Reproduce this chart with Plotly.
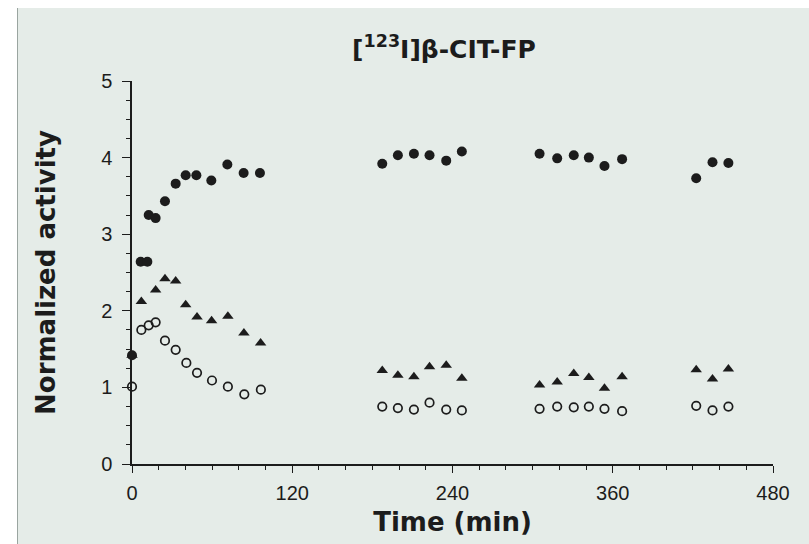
import plotly.graph_objects as go

# Filled circles
t_filled = [0, 6.5, 11.5, 12.5, 17.7, 24.7, 32.7, 40.2, 48.2, 59.4, 71.4, 83.6, 95.8,
            187.4, 199.1, 211.1, 222.8, 235.3, 247.0,
            305.2, 318.4, 330.8, 342.1, 353.8, 367.0,
            422.5, 434.7, 446.6]
v_filled = [1.42, 2.64, 2.64, 3.25, 3.21, 3.43, 3.66, 3.77, 3.77, 3.70, 3.91, 3.80, 3.80,
            3.92, 4.03, 4.05, 4.03, 3.96, 4.08,
            4.05, 3.99, 4.03, 4.00, 3.89, 3.98,
            3.73, 3.94, 3.93]

# Filled triangles
t_tri = [0, 7.0, 17.7, 24.7, 32.7, 40.2, 48.7, 59.6, 71.8, 83.8, 96.3,
         187.4, 199.1, 211.1, 222.8, 235.3, 247.0,
         305.2, 318.4, 330.8, 342.1, 353.8, 367.0,
         422.5, 434.7, 446.6]
v_tri = [1.42, 2.12, 2.27, 2.42, 2.39, 2.08, 1.92, 1.87, 1.93, 1.71, 1.58,
         1.22, 1.16, 1.14, 1.27, 1.29, 1.12,
         1.03, 1.07, 1.18, 1.13, 0.99, 1.14,
         1.23, 1.11, 1.24]

# Open circles
t_open = [0, 7.0, 12.5, 17.7, 24.7, 32.7, 40.7, 48.7, 59.9, 71.8, 84.1, 96.5,
          187.4, 199.1, 211.1, 222.8, 235.3, 247.0,
          305.2, 318.4, 330.8, 342.1, 353.8, 367.0,
          422.5, 434.7, 446.6]
v_open = [1.01, 1.75, 1.81, 1.85, 1.61, 1.49, 1.32, 1.19, 1.09, 1.01, 0.91, 0.97,
          0.75, 0.73, 0.71, 0.80, 0.71, 0.70,
          0.72, 0.75, 0.74, 0.75, 0.72, 0.69,
          0.76, 0.70, 0.75]

x_ticks = [0, 120, 240, 360, 480]
y_ticks = [0, 1, 2, 3, 4, 5]

ink = "#1c1c1c"
font_family = "Liberation Sans, Arial, sans-serif"
bold_family = "DejaVu Sans, Liberation Sans, sans-serif"

fig = go.Figure()
fig.add_trace(go.Scatter(x=t_filled, y=v_filled, mode="markers", cliponaxis=False,
                         marker=dict(symbol="circle", size=10, color=ink, line=dict(width=0))))
fig.add_trace(go.Scatter(x=t_tri, y=v_tri, mode="markers", cliponaxis=False,
                         marker=dict(symbol="triangle-up", size=10, color=ink, line=dict(width=0))))
fig.add_trace(go.Scatter(x=t_open, y=v_open, mode="markers", cliponaxis=False,
                         marker=dict(symbol="circle-open", size=8.5, color=ink, line=dict(width=1.7))))

W, H = 809, 544
ml, mr, mt, mb = 132, 36, 81, 80
pw, ph = W - ml - mr, H - mt - mb

def px_x(p):
    return (p - ml) / pw

def px_y(p):
    return (H - mb - p) / ph

fig.update_layout(
    width=W, height=H,
    margin=dict(l=ml, r=mr, t=mt, b=mb),
    paper_bgcolor="#e5ece8",
    plot_bgcolor="#e5ece8",
    showlegend=False,
    font=dict(family=font_family, color=ink, size=18),
    title=dict(text="<b>[<sup>123</sup>I]β-CIT-FP</b>", x=px_x(444), xref="paper",
               xanchor="center", y=1 - 49 / H, yanchor="middle",
               font=dict(size=25, family=bold_family, color=ink)),
    shapes=[
        dict(type="rect", xref="paper", yref="paper", x0=px_x(-2), x1=px_x(17),
             y0=px_y(H + 2), y1=px_y(-2), fillcolor="white", line=dict(width=0), layer="below"),
        dict(type="rect", xref="paper", yref="paper", x0=px_x(-2), x1=px_x(W + 2),
             y0=px_y(8), y1=px_y(-2), fillcolor="white", line=dict(width=0), layer="below"),
        dict(type="line", xref="paper", yref="paper", x0=px_x(17.5), x1=px_x(17.5),
             y0=px_y(H + 2), y1=px_y(8), line=dict(color="#9aa5a0", width=1), layer="below"),
    ],
)

fig.update_xaxes(
    range=[0, 480], tickvals=x_ticks, ticktext=[str(v) for v in x_ticks],
    showgrid=False, zeroline=False, showline=True, linecolor=ink, linewidth=1.5,
    ticks="outside", ticklen=7, tickwidth=1.3, tickcolor=ink, ticklabelstandoff=3,
    tickfont=dict(size=20, family=font_family, color=ink),
    minor=dict(dtick=20, ticks="outside", ticklen=4, tickwidth=1, tickcolor=ink),
    title=dict(text="<b>Time (min)</b>", font=dict(size=26, family=bold_family, color=ink), standoff=10),
)
fig.update_yaxes(
    range=[0, 5], tickvals=y_ticks, ticktext=[str(v) for v in y_ticks],
    showgrid=False, zeroline=False, showline=True, linecolor=ink, linewidth=1.5,
    ticks="outside", ticklen=8, tickwidth=1.3, tickcolor=ink, ticklabelstandoff=6,
    tickfont=dict(size=20, family=font_family, color=ink),
    minor=dict(dtick=0.25, ticks="outside", ticklen=4, tickwidth=1, tickcolor=ink),
    title=dict(text="<b>Normalized activity</b>", font=dict(size=26, family=bold_family, color=ink), standoff=38),
)

fig.write_html("out.html")
